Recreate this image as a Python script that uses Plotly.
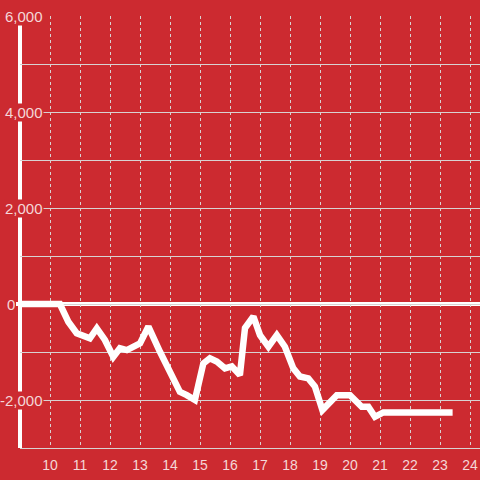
import plotly.graph_objects as go

# Data
x_vals = [9.0, 10.33, 10.61, 10.89, 11.33, 11.56, 11.83, 12.11, 12.33, 12.56, 13.0, 13.28,
          13.67, 14.11, 14.33, 14.56, 14.83, 15.11, 15.33, 15.56, 15.83, 16.06, 16.33,
          16.5, 16.78, 17.0, 17.28, 17.56, 17.83, 18.11, 18.33, 18.61, 18.83, 19.08,
          19.56, 20.0, 20.39, 20.61, 20.83, 21.11, 23.42]
y_vals = [0, 0, -370, -610, -715, -510, -750, -1100, -920, -960, -820, -470,
          -1000, -1580, -1830, -1900, -2000, -1240, -1130, -1200, -1340, -1300, -1480,
          -500, -260, -650, -890, -650, -890, -1340, -1510, -1550, -1720, -2210,
          -1900, -1900, -2140, -2140, -2350, -2260, -2260]

x_ticks = list(range(10, 25))
y_ticks = [-2000, 0, 2000, 4000, 6000]
y_tick_text = ["-2,000", "0", "2,000", "4,000", "6,000"]

BG = "#cc2a30"
GRID = "#d8d2d2"
TXT = "rgba(255,255,255,0.82)"

fig = go.Figure()
fig.add_trace(go.Scatter(x=x_vals, y=y_vals, mode="lines",
                         line=dict(color="white", width=6.5), hoverinfo="skip",
                         showlegend=False))

fig.update_layout(
    width=480, height=480,
    paper_bgcolor=BG, plot_bgcolor=BG,
    margin=dict(l=20, r=0, t=16, b=32),
    font=dict(family="Liberation Sans, Arial, sans-serif", size=14, color=TXT),
    showlegend=False,
)
fig.update_xaxes(range=[9, 24.333], tickvals=x_ticks, ticks="",
                 showgrid=True, gridcolor=GRID, gridwidth=1, griddash="dot",
                 showline=True, linecolor=GRID, linewidth=1,
                 zeroline=False, tickfont=dict(size=14, color=TXT), ticklabelstandoff=4)
fig.update_yaxes(range=[-3000, 6000], dtick=1000, tick0=0, showticklabels=False,
                 ticks="", showgrid=True, gridcolor=GRID, gridwidth=1,
                 zeroline=False, showline=False)

# y axis line
fig.add_shape(type="line", xref="paper", yref="paper", x0=0, x1=0, y0=0, y1=1,
              line=dict(color="white", width=4), layer="below")
# zero line (extends slightly left of the axis, as in the reference)
fig.add_shape(type="line", xref="paper", yref="y", x0=-4 / 460, x1=1, y0=0, y1=0,
              line=dict(color="white", width=4), layer="below")

for v, t in zip(y_ticks, y_tick_text):
    right_px = 15.5 if v == 0 else 43.5
    fig.add_annotation(x=(right_px - 20) / 460, xref="paper", y=v, yref="y", text=t,
                       showarrow=False, xanchor="right", yanchor="middle",
                       bgcolor=BG, borderpad=0,
                       font=dict(family="Liberation Sans, Arial, sans-serif",
                                 size=15, color=TXT))

fig.write_html("out.html", config={"displayModeBar": False},
               post_script="document.body.style.margin='0';document.body.style.background='" + BG + "';")
